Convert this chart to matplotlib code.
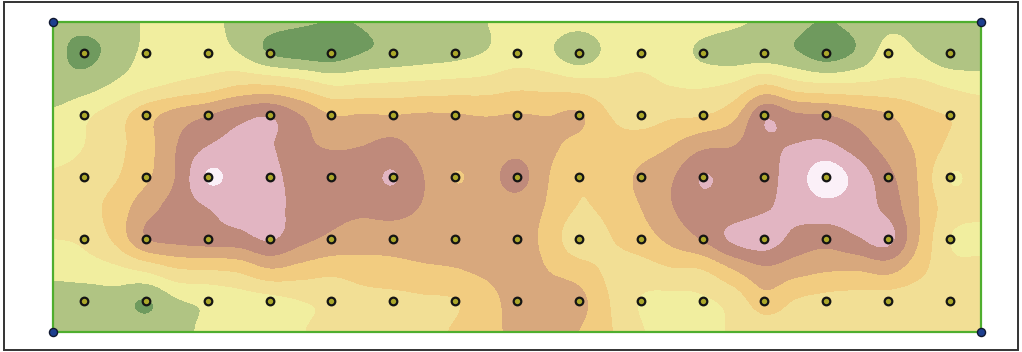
import numpy as np
import matplotlib
matplotlib.use("Agg")
import matplotlib.pyplot as plt
from matplotlib.colors import ListedColormap, BoundaryNorm
from matplotlib.patches import Rectangle

# field values, on a lattice of half grid spacings
row0 = [1.2,1.3,1.5,2.1,2.6,2.3,1.7,1.3,1.1,0.98,1.05,1.4,1.5,1.7,1.98,2.3,2.4,2.3,2.5,2.6,2.6,2.4,2.15,1.8,1.25,0.95,1.3,1.8,1.7,1.5,1.3]
row1 = [1.3,0.7,1.4,2.2,2.5,2.5,2.0,0.95,0.6,0.5,1.0,1.3,1.5,1.7,2.05,2.5,2.2,1.4,2.3,2.7,2.5,1.8,1.5,1.4,1.1,0.5,1.15,2.4,2.0,1.3,1.4]
row2 = [1.3,1.5,2.1,2.7,3.1,3.4,3.9,3.9,3.5,2.9,3.0,3.1,3.2,3.3,3.4,3.7,3.6,3.4,3.2,3.2,2.95,2.85,3.1,3.95,3.3,3.05,3.1,3.2,3.2,2.8,2.5]
row3 = [2.2,2.8,3.5,4.6,5.4,5.95,6.6,6.9,6.0,5.0,5.05,5.0,5.1,5.05,4.95,5.05,4.97,5.1,4.0,3.6,3.85,3.95,4.7,6.8,6.15,6.0,5.5,5.05,4.3,3.95,3.7]
row4 = [2.7,3.0,3.7,4.6,6.0,7.0,7.3,7.1,6.3,5.9,6.0,6.3,5.6,5.4,5.4,5.6,5.2,4.7,4.3,4.5,5.0,5.8,6.0,6.75,7.05,7.2,6.5,5.6,4.8,3.8,3.3]
row5 = [3.1,3.3,3.9,4.8,6.1,8.1,7.6,7.3,6.6,6.5,6.6,7.06,6.0,4.97,5.5,6.4,5.05,4.1,4.4,5.2,5.9,7.03,6.6,6.7,7.5,8.6,7.6,6.3,4.9,2.98,3.4]
row6 = [3.4,3.6,4.4,5.6,6.4,7.0,7.4,7.4,6.6,6.3,6.2,6.4,5.9,5.4,5.4,5.5,4.9,3.95,4.3,5.0,5.95,6.6,6.5,6.9,7.3,7.6,7.4,6.7,5.0,3.5,3.2]
row7 = [3.0,3.2,4.2,5.95,6.3,6.5,6.6,7.1,6.3,5.8,5.5,5.4,5.4,5.4,5.4,5.4,4.7,3.3,3.95,4.5,5.3,6.1,7.2,7.5,6.7,6.4,6.9,7.3,5.0,3.0,2.8]
row8 = [2.3,2.5,2.75,3.2,3.9,4.0,4.2,4.9,4.6,4.3,4.5,4.7,4.85,4.95,5.2,5.5,5.0,4.5,3.8,3.6,3.9,4.0,5.0,5.8,5.4,5.1,5.05,5.3,4.3,3.3,3.2]
row9 = [1.5,1.4,1.5,0.95,1.9,2.2,2.5,2.7,3.0,3.2,3.6,3.7,3.85,3.97,4.6,5.4,5.5,5.3,4.0,2.95,2.7,2.85,3.4,4.6,3.95,3.7,3.6,3.5,3.4,3.3,3.2]
row10 = [1.4,1.4,1.5,1.5,1.6,2.3,2.6,2.8,2.95,3.3,3.4,3.7,3.8,4.1,4.8,5.1,5.2,5.0,4.1,3.1,2.6,2.7,3.1,3.4,3.4,3.4,3.4,3.4,3.4,3.3,3.3]
field = [row0,row1,row2,row3,row4,row5,row6,row7,row8,row9,row10]

class_edges = [-1,1,2,3,4,5,6,7,8,10]
class_colors = ["#6f9a5e","#b0c483","#f1ee9f","#f2df95","#f2cc80","#d8a87d","#bf8a7b","#e2b5c2","#fbf0f8"]

sample_cols = [1,3,5,7,9,11,13,15,17,19,21,23,25,27,29]
sample_rows = [1,3,5,7,9]
corner_cols = [0,30,0,30]
corner_rows = [0,0,10,10]

W, H = 1022, 352
fig = plt.figure(figsize=(W/100, H/100), dpi=100, facecolor="white")
ax = fig.add_axes([53/W, 1-332/H, 928/W, 310/H])
cmap = ListedColormap(class_colors)
norm = BoundaryNorm(class_edges, cmap.N)
ax.imshow(np.array(field), cmap=cmap, norm=norm, aspect="auto",
          interpolation="catrom", interpolation_stage="data",
          extent=(-0.5,30.5,10.5,-0.5), zorder=1)
ax.set_xlim(0,30)
ax.set_ylim(10,0)
ax.set_xticks([]); ax.set_yticks([])
for s in ax.spines.values():
    s.set_color("#4fae2e"); s.set_linewidth(1.6); s.set_zorder(3)

gx, gy = np.meshgrid(sample_cols, sample_rows)
ax.scatter(gx.ravel(), gy.ravel(), s=30, c="#aca82a", edgecolors="#141414",
           linewidths=1.6, zorder=4, clip_on=False)
ax.scatter(corner_cols, corner_rows, s=34, c="#1d3f8f", edgecolors="#101830",
           linewidths=1.0, zorder=5, clip_on=False)

fig.add_artist(Rectangle((4/W, 1-350/H), 1014/W, 348/H, transform=fig.transFigure,
                         fill=False, edgecolor="#333333", linewidth=1.4))
fig.savefig("out.png", dpi=100)
